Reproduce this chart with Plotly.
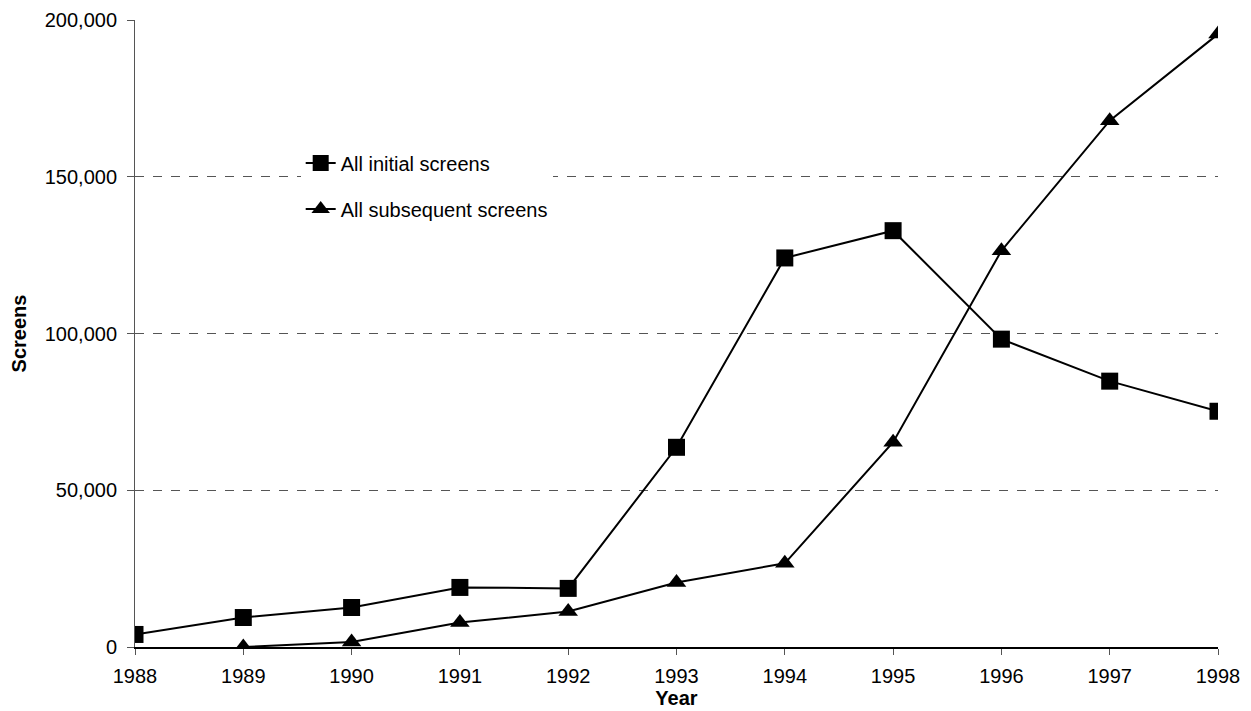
import plotly.graph_objects as go

years = [1988, 1989, 1990, 1991, 1992, 1993, 1994, 1995, 1996, 1997, 1998]
initial_screens = [4000, 9400, 12600, 19000, 18700, 63700, 124100, 132800, 98200, 84800, 75200]
sub_years = [1989, 1990, 1991, 1992, 1993, 1994, 1995, 1996, 1997, 1998]
subsequent_screens = [0, 1600, 7800, 11300, 20600, 26700, 65300, 126400, 167900, 195500]
y_ticks = [0, 50000, 100000, 150000, 200000]
y_labels = ["0", "50,000", "100,000", "150,000", "200,000"]

FONT = "Liberation Sans, Arial, sans-serif"

fig = go.Figure()
fig.add_trace(go.Scatter(
    x=years, y=initial_screens, name="All initial screens",
    mode="lines+markers", legendgroup="a",
    line=dict(color="black", width=2),
    marker=dict(symbol="square", size=17, color="black")))
fig.add_trace(go.Scatter(
    x=sub_years, y=subsequent_screens, name="All subsequent screens",
    mode="lines+markers", legendgroup="b",
    line=dict(color="black", width=2),
    marker=dict(symbol="triangle-up", size=17, color="black")))

# page body has an 8px margin, so the figure is a bit smaller than the window
fig.update_layout(
    width=1243, height=703,
    margin=dict(l=127, r=33, t=12, b=64),
    paper_bgcolor="white", plot_bgcolor="white",
    font=dict(family=FONT, size=20, color="black"),
    legend=dict(x=0.153, y=0.803, xanchor="left", yanchor="top",
                bgcolor="white", tracegroupgap=17,
                font=dict(size=20), borderwidth=0),
    xaxis=dict(
        range=[1988, 1998], tickvals=years, ticktext=[str(y) for y in years],
        showgrid=False, zeroline=False, automargin=False,
        showline=True, linecolor="black", linewidth=1.5,
        ticks="outside", ticklen=6, tickcolor="#555", ticklabelstandoff=4,
        title=dict(text="<b>Year</b>", font=dict(size=20), standoff=3),
    ),
    yaxis=dict(
        range=[0, 200000], tickvals=y_ticks, ticktext=y_labels,
        showgrid=True, gridcolor="#555", griddash="dash", gridwidth=1,
        zeroline=False, automargin=False,
        showline=True, linecolor="#555", linewidth=1,
        ticks="outside", ticklen=7, tickcolor="#555", ticklabelstandoff=6,
        title=dict(text="<b>Screens</b>", font=dict(size=20), standoff=15),
    ),
)

fig.write_html("out.html")
